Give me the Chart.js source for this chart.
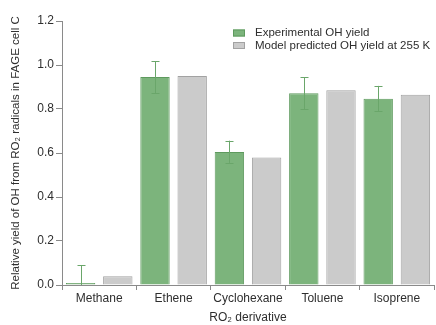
<!DOCTYPE html>
<html>
<head>
<meta charset="utf-8">
<script src="https://cdn.jsdelivr.net/npm/chart.js@4.4.1/dist/chart.umd.min.js"></script>
<style>
  html, body { margin: 0; padding: 0; background: #fff; }
  #wrap { width: 436px; height: 325px; position: relative; }
</style>
</head>
<body>
<div id="wrap"><canvas id="c"></canvas></div>
<script>
const categories = ['Methane', 'Ethene', 'Cyclohexane', 'Toluene', 'Isoprene'];
const experimental = [0.0, 0.946, 0.605, 0.872, 0.847];
const expErrLow = [0.0, 0.873, 0.555, 0.800, 0.790];
const expErrHigh = [0.09, 1.018, 0.656, 0.945, 0.905];
const model255K = [0.04, 0.950, 0.580, 0.885, 0.865];
const yTicks = [0.0, 0.2, 0.4, 0.6, 0.8, 1.0, 1.2];
const seriesNames = ['Experimental OH yield', 'Model predicted OH yield at 255 K'];

const FONT = "'Liberation Sans', Arial, sans-serif";
const GREEN = '#7cb47c';
const GREEN_EDGE = '#5e9a5e';
const GREY = '#cbcbcb';
const GREY_EDGE = '#a2a2a2';
const AXIS = '#8a8a8a';
const TEXT = '#2e2e2e';

// Error bars on the experimental series
const errorBars = {
  id: 'errorBars',
  afterDatasetsDraw(chart) {
    const meta = chart.getDatasetMeta(0);
    const y = chart.scales.y;
    const ctx = chart.ctx;
    ctx.save();
    ctx.strokeStyle = '#6aa66a';
    ctx.lineWidth = 1;
    meta.data.forEach((bar, i) => {
      const x = Math.round(bar.x) + 0.5;
      const yl = y.getPixelForValue(expErrLow[i]);
      const yh = y.getPixelForValue(expErrHigh[i]);
      ctx.beginPath();
      ctx.moveTo(x, yl); ctx.lineTo(x, yh);
      ctx.moveTo(x - 4, Math.round(yh) + 0.5); ctx.lineTo(x + 4, Math.round(yh) + 0.5);
      if (expErrLow[i] > 0) {
        ctx.moveTo(x - 4, Math.round(yl) + 0.5); ctx.lineTo(x + 4, Math.round(yl) + 0.5);
      }
      ctx.stroke();
    });
    ctx.restore();
  }
};

// Legend drawn inside the plot, top right
const insideLegend = {
  id: 'insideLegend',
  afterDraw(chart) {
    const ctx = chart.ctx;
    const fills = [GREEN, GREY];
    const edges = [GREEN_EDGE, GREY_EDGE];
    ctx.save();
    ctx.font = '11.5px ' + FONT;
    ctx.textBaseline = 'middle';
    seriesNames.forEach((name, i) => {
      const yy = 33 + i * 12.5;
      ctx.fillStyle = fills[i];
      ctx.fillRect(233, yy - 3.5, 12, 7);
      ctx.strokeStyle = edges[i];
      ctx.lineWidth = 1;
      ctx.strokeRect(233.5, yy - 3, 11, 6);
      ctx.fillStyle = TEXT;
      ctx.fillText(name, 255, yy);
    });
    ctx.restore();
  }
};

new Chart(document.getElementById('c'), {
  type: 'bar',
  data: {
    labels: categories,
    datasets: [
      {
        label: seriesNames[0],
        data: experimental,
        backgroundColor: GREEN,
        borderColor: GREEN_EDGE,
        borderWidth: 1,
        minBarLength: 2,
        categoryPercentage: 1.0,
        barPercentage: 0.79
      },
      {
        label: seriesNames[1],
        data: model255K,
        backgroundColor: GREY,
        borderColor: GREY_EDGE,
        borderWidth: 1,
        categoryPercentage: 1.0,
        barPercentage: 0.79
      }
    ]
  },
  options: {
    responsive: true,
    maintainAspectRatio: false,
    animation: false,
    layout: { padding: { top: 21, right: 2, left: 0, bottom: 0 } },
    plugins: {
      legend: { display: false },
      tooltip: { enabled: false }
    },
    scales: {
      x: {
        grid: {
          display: true,
          offset: true,
          drawOnChartArea: false,
          drawTicks: true,
          tickLength: 5,
          color: AXIS
        },
        border: { display: true, color: AXIS },
        ticks: { color: TEXT, font: { family: FONT, size: 12 }, padding: 1, maxRotation: 0 },
        title: {
          display: true,
          text: 'RO₂ derivative',
          color: TEXT,
          font: { family: FONT, size: 12 },
          padding: { top: 10, bottom: 0 }
        },
        afterFit(scale) { scale.height = 40; }
      },
      y: {
        min: 0,
        max: 1.2,
        afterBuildTicks(scale) { scale.ticks = yTicks.map(v => ({ value: v })); },
        grid: {
          display: true,
          drawOnChartArea: false,
          drawTicks: true,
          tickLength: 6,
          color: AXIS
        },
        border: { display: true, color: AXIS },
        ticks: {
          color: TEXT,
          font: { family: FONT, size: 12 },
          padding: 2,
          callback: v => Number(v).toFixed(1)
        },
        title: {
          display: true,
          text: 'Relative yield of OH from RO₂ radicals in FAGE cell C',
          color: TEXT,
          font: { family: FONT, size: 11.5 },
          padding: { top: 9, bottom: 2 }
        },
        afterFit(scale) { scale.width = 62; }
      }
    }
  },
  plugins: [errorBars, insideLegend]
});
</script>
</body>
</html>
